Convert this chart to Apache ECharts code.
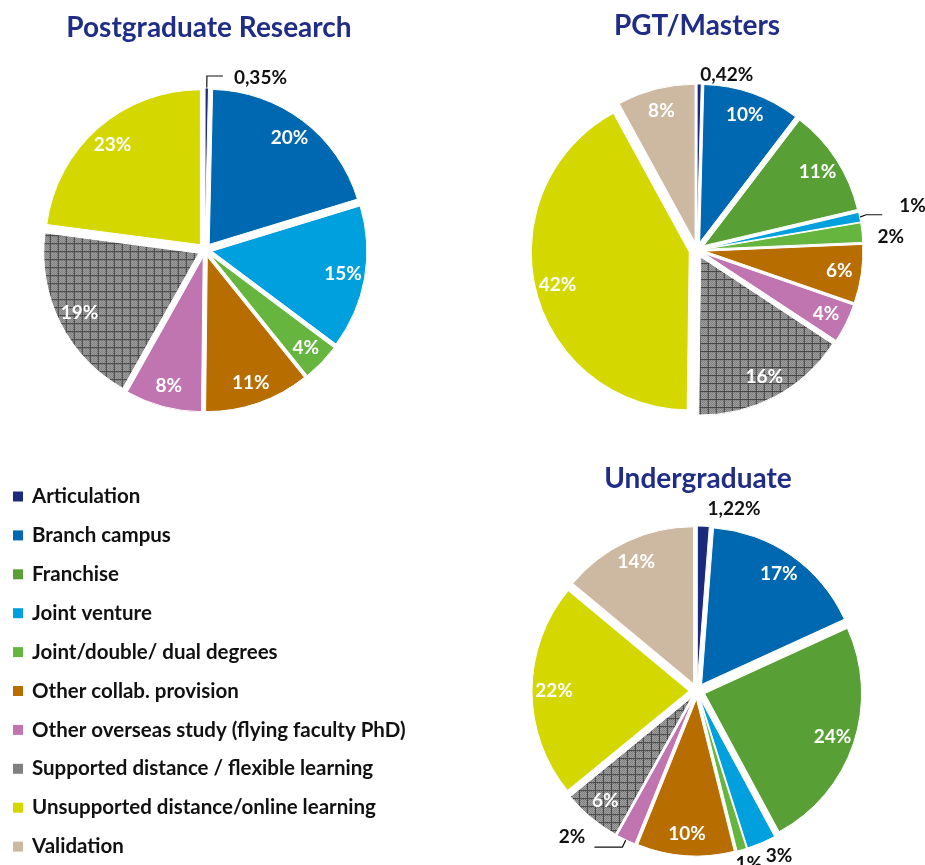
<!DOCTYPE html>
<html>
<head>
<meta charset="utf-8">
<script src="https://cdn.jsdelivr.net/npm/echarts@6/dist/echarts.min.js"></script>
<style>
html,body{margin:0;padding:0;background:#fff;}
#chart{width:925px;height:865px;}
</style>
</head>
<body>
<div id="chart"></div>
<script>
// ---- data ----
const categories = [
  'Articulation',
  'Branch campus',
  'Franchise',
  'Joint venture',
  'Joint/double/ dual degrees',
  'Other collab. provision',
  'Other overseas study (flying faculty PhD)',
  'Supported distance / flexible learning',
  'Unsupported distance/online learning',
  'Validation'
];
const chartTitles = ['Postgraduate Research', 'PGT/Masters', 'Undergraduate'];
const pgrValues = [0.35, 20, 0, 15, 4, 11, 8, 19, 23, 0];
const pgtValues = [0.42, 10, 11, 1, 2, 6, 4, 16, 42, 8];
const ugValues  = [1.22, 17, 24, 3, 1, 10, 2, 6, 22, 14];

// ---- styles ----
const colors = ['#1c2a7e', '#0068b1', '#58a035', '#00a0de', '#66b53f', '#b76d00', '#c074b0', 'PATTERN', '#d4d700', '#cdb8a1'];
const legendColors = ['#1c2a7e', '#0068b1', '#58a035', '#00a0de', '#66b53f', '#b76d00', '#c074b0', '#808080', '#d4d700', '#cdb8a1'];

function makePattern() {
  const c = document.createElement('canvas');
  c.width = 8; c.height = 8;
  const ctx = c.getContext('2d');
  for (let y = 0; y < 8; y++) {
    for (let x = 0; x < 8; x++) {
      ctx.fillStyle = ((x + y) % 2 === 0) ? '#b4b4b4' : '#6c6c6c';
      ctx.fillRect(x, y, 1, 1);
    }
  }
  ctx.fillStyle = '#3e3e3e';
  ctx.fillRect(0, 0, 8, 1);
  ctx.fillRect(0, 0, 1, 8);
  return c;
}
const pattern = { image: makePattern(), repeat: 'repeat' };

const FONT = 'Lato, "Open Sans", sans-serif';

function fmt(v) {
  return Number.isInteger(v) ? v + '%' : String(v).replace('.', ',') + '%';
}

// layout per chart (label nudges are style offsets for outside labels)
const layouts = [
  { center: [205, 250], R: 155, off: 7, title: [209, 14], leaders: { 'Articulation': [12, 16] },
    nudge: { 'Articulation': [6, 2] } },
  { center: [697, 250], R: 158, off: 8, title: [697, 12], leaders: { 'Joint venture': [12, 16] },
    nudge: { 'Articulation': [-8, -3], 'Joint venture': [12, -9], 'Joint/double/ dual degrees': [5, 0] } },
  { center: [697, 691], R: 157, off: 8, title: [698, 465], leaders: { 'Other overseas study (flying faculty PhD)': [8, 28] },
    nudge: { 'Articulation': [-5, -11], 'Joint venture': [-29, 15], 'Joint/double/ dual degrees': [-17, 2],
             'Other overseas study (flying faculty PhD)': [-4, -10] } }
];
const allValues = [pgrValues, pgtValues, ugValues];

const series = [];
const titles = [];
allValues.forEach((vals, k) => {
  const L = layouts[k];
  titles.push({
    text: chartTitles[k], left: L.title[0], top: L.title[1], textAlign: 'center', padding: 0,
    textStyle: { fontFamily: FONT, fontSize: 28, fontWeight: 'bold', color: '#1f2d87' }
  });
  const items = [];
  categories.forEach((name, i) => {
    if (vals[i] > 0) items.push({ name, value: vals[i], idx: i });
  });
  // shape series (with outside labels for small slices)
  series.push({
    type: 'pie', center: L.center, radius: [0, L.R], startAngle: 90, clockwise: true,
    selectedMode: 'multiple', selectedOffset: L.off, silent: true,
    avoidLabelOverlap: true, animation: false,
    emphasis: { disabled: true },
    itemStyle: { borderColor: '#fff', borderWidth: 1 },
    labelLayout: function (p) {
      const it = items[p.dataIndex];
      const n = it && L.nudge[it.name];
      return n ? { dx: n[0], dy: n[1] } : {};
    },
    data: items.map(d => {
      const small = d.value <= 3;
      const lead = L.leaders[d.name];
      return {
        name: d.name, value: d.value, selected: true,
        itemStyle: { color: colors[d.idx] === 'PATTERN' ? pattern : colors[d.idx] },
        label: {
          show: small, position: 'outside', formatter: fmt(d.value),
          fontFamily: FONT, fontSize: 19, fontWeight: 'bold', color: '#111'
        },
        labelLine: { show: small && !!lead, length: lead ? lead[0] : 6, length2: lead ? lead[1] : 4, lineStyle: { color: '#111', width: 1.2 } }
      };
    })
  });
  // label series for inside labels
  series.push({
    type: 'pie', center: L.center, radius: [L.R * 0.68, L.R], startAngle: 90, clockwise: true,
    selectedMode: 'multiple', selectedOffset: L.off, silent: true, animation: false,
    emphasis: { disabled: true },
    itemStyle: { color: 'rgba(0,0,0,0)', borderWidth: 0 },
    labelLine: { show: false },
    data: items.map(d => ({
      name: d.name, value: d.value, selected: true,
      label: {
        show: d.value > 3, position: 'inside', formatter: fmt(d.value),
        fontFamily: FONT, fontSize: 19, fontWeight: 'bold', color: '#fff'
      }
    }))
  });
});

const chart = echarts.init(document.getElementById('chart'), null, { renderer: 'canvas' });
chart.setOption({
  backgroundColor: '#fff',
  animation: false,
  title: titles,
  legend: {
    orient: 'vertical', left: 13, top: 486, height: 420, padding: 0, icon: 'rect',
    itemWidth: 10, itemHeight: 10, itemGap: 17.9, selectedMode: false,
    textStyle: { fontFamily: FONT, fontSize: 20.5, fontWeight: 'bold', color: '#111', lineHeight: 20, padding: [0, 0, 0, 4] },
    data: categories.map((c, i) => ({ name: c, itemStyle: { color: legendColors[i], borderWidth: 0 } }))
  },
  series
});
</script>
</body>
</html>
